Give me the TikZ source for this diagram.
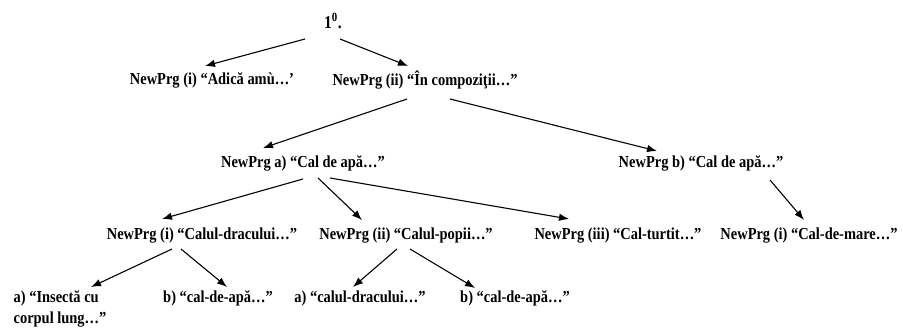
\documentclass[tikz,border=0pt]{standalone}
\usepackage{fontspec}
\setmainfont{Liberation Serif}
\newfontfamily\narrowserif[FakeStretch=0.86]{Liberation Serif}
\usetikzlibrary{arrows.meta}
\tikzset{
  lbl/.style={inner sep=0pt, font=\narrowserif\bfseries\fontsize{16.8}{20.5}\selectfont, text=black},
  arr/.style={draw=black, line width=1.1pt, -{Latex[length=10pt,width=7.5pt]}}
}
\begin{document}
\begin{tikzpicture}[x=1pt,y=-1pt]
\useasboundingbox (0,0) rectangle (903,331);
% labels, one per tree node
\node[lbl, font=\narrowserif\bfseries\fontsize{18}{21}\selectfont] (root) at (333,21) {1\textsuperscript{\bfseries 0}.};
\node[lbl] (Ai)  at (212,80) {NewPrg (i) “Adică amù…’};
\node[lbl] (Aii) at (425,80) {NewPrg (ii) “În compoziţii…”};
\node[lbl] (Ba)  at (303,163) {NewPrg a) “Cal de apă…”};
\node[lbl] (Bb)  at (701,163) {NewPrg b) “Cal de apă…”};
\node[lbl] (C1)  at (202,236) {NewPrg (i) “Calul-dracului…”};
\node[lbl] (C2)  at (406,236) {NewPrg (ii) “Calul-popii…”};
\node[lbl] (C3)  at (618,236) {NewPrg (iii) “Cal-turtit…”};
\node[lbl] (C4)  at (809,236) {NewPrg (i) “Cal-de-mare…”};
\node[lbl, align=left] (D1) at (60,309) {a) “Insectă cu\\corpul lung…”};
\node[lbl] (D2)  at (218,298) {b) “cal-de-apă…”};
\node[lbl] (D3)  at (360,298) {a) “calul-dracului…”};
\node[lbl] (D4)  at (515,298) {b) “cal-de-apă…”};
% connectors
\draw[arr] ([shift={(-28,18)}]root.center) -- ([shift={(-7,-14)}]Ai.center);
\draw[arr] ([shift={(7,18)}]root.center) -- ([shift={(-17,-14)}]Aii.center);
\draw[arr] ([shift={(-18,19)}]Aii.center) -- ([shift={(-40,-15)}]Ba.center);
\draw[arr] ([shift={(25,19)}]Aii.center) -- ([shift={(-44,-12)}]Bb.center);
\draw[arr] ([shift={(0,16)}]Ba.center) -- ([shift={(-40,-17)}]C1.center);
\draw[arr] ([shift={(15,15)}]Ba.center) -- ([shift={(-44,-16)}]C2.center);
\draw[arr] ([shift={(27,15)}]Ba.center) -- ([shift={(-49,-17)}]C3.center);
\draw[arr] ([shift={(69,17)}]Bb.center) -- ([shift={(-5,-16)}]C4.center);
\draw[arr] ([shift={(-30,13)}]C1.center) -- ([shift={(31,-22)}]D1.center);
\draw[arr] ([shift={(-21,13)}]C1.center) -- ([shift={(9,-11)}]D2.center);
\draw[arr] ([shift={(-9,13)}]C2.center) -- ([shift={(-7,-11)}]D3.center);
\draw[arr] ([shift={(4,13)}]C2.center) -- ([shift={(-40,-10)}]D4.center);
\end{tikzpicture}
\end{document}
